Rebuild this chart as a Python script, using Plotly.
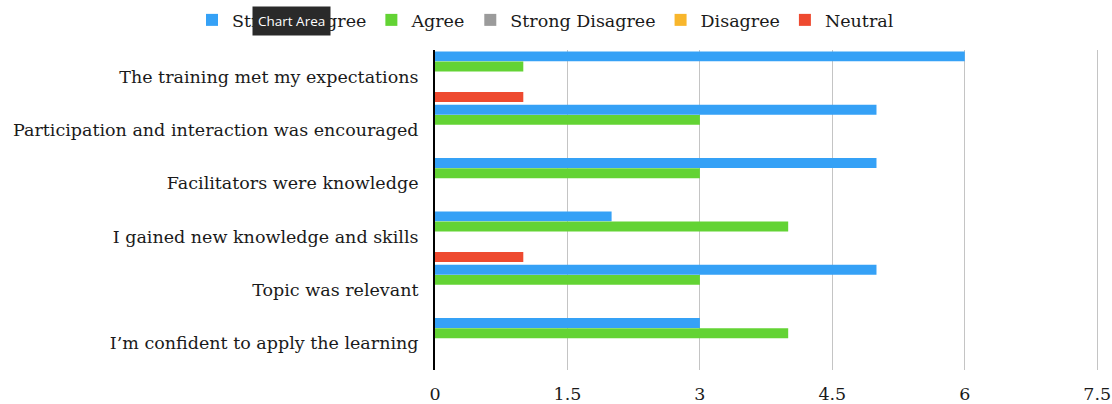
import plotly.graph_objects as go

categories = [
    "The training met my expectations",
    "Participation and interaction was encouraged",
    "Facilitators were knowledge",
    "I gained new knowledge and skills",
    "Topic was relevant",
    "I\u2019m confident to apply the learning",
]
strongly_agree = [6, 5, 5, 2, 5, 3]
agree = [1, 3, 3, 4, 3, 4]
strong_disagree = [0, 0, 0, 0, 0, 0]
disagree = [0, 0, 0, 0, 0, 0]
neutral = [1, 0, 0, 1, 0, 0]

series = [
    ("Strongly Agree", strongly_agree, "#35a1f6"),
    ("Agree", agree, "#63d334"),
    ("Strong Disagree", strong_disagree, "#9b9b9b"),
    ("Disagree", disagree, "#f8b62c"),
    ("Neutral", neutral, "#ee4a30"),
]
x_ticks = [0, 1.5, 3, 4.5, 6, 7.5]

FONT = "DejaVu Serif"
FS = 17.5
L, R, T, B = 435, 13, 50, 34
PW = 1112 - L - R
PH = 404 - T - B

fig = go.Figure()
for name, vals, color in series:
    fig.add_trace(go.Bar(
        y=categories, x=vals, name=name, orientation="h",
        marker=dict(color=color, line=dict(width=0)),
    ))

fig.update_layout(
    width=1112, height=404,
    margin=dict(l=L, r=R, t=T, b=B, autoexpand=False),
    paper_bgcolor="white", plot_bgcolor="white",
    barmode="group", bargap=0.05, bargroupgap=0.02,
    font=dict(family=FONT, size=FS, color="#1a1a1a"),
    showlegend=True,
    legend=dict(
        orientation="h", xref="paper", yref="paper",
        x=(192 - L) / PW, xanchor="left",
        y=(404 - B - 20) / PH, yanchor="middle",
        font=dict(family=FONT, size=FS, color="#1a1a1a"),
        itemclick=False, itemdoubleclick=False,
        tracegroupgap=0,
    ),
    xaxis=dict(
        range=[0, 7.52], tickvals=x_ticks, ticktext=[str(t) for t in x_ticks],
        showgrid=True, gridcolor="#c4c4c4", gridwidth=1,
        zeroline=False, showline=False, ticks="",
        ticklabelstandoff=11,
        tickfont=dict(family=FONT, size=FS, color="#1a1a1a"),
        fixedrange=True,
    ),
    yaxis=dict(
        autorange="reversed", showgrid=False, zeroline=False,
        showline=True, linecolor="black", linewidth=2,
        ticks="", ticklabelstandoff=11,
        tickfont=dict(family=FONT, size=FS, color="#1a1a1a"),
        fixedrange=True,
    ),
    annotations=[dict(
        text="Chart Area", xref="paper", yref="paper",
        x=(291.5 - L) / PW, y=(404 - B - 21) / PH,
        xanchor="center", yanchor="middle",
        showarrow=False, bgcolor="#2a2a2a", borderpad=5,
        font=dict(family="Open Sans", size=13.5, color="white"),
    )],
)

fig.write_html("out.html")
